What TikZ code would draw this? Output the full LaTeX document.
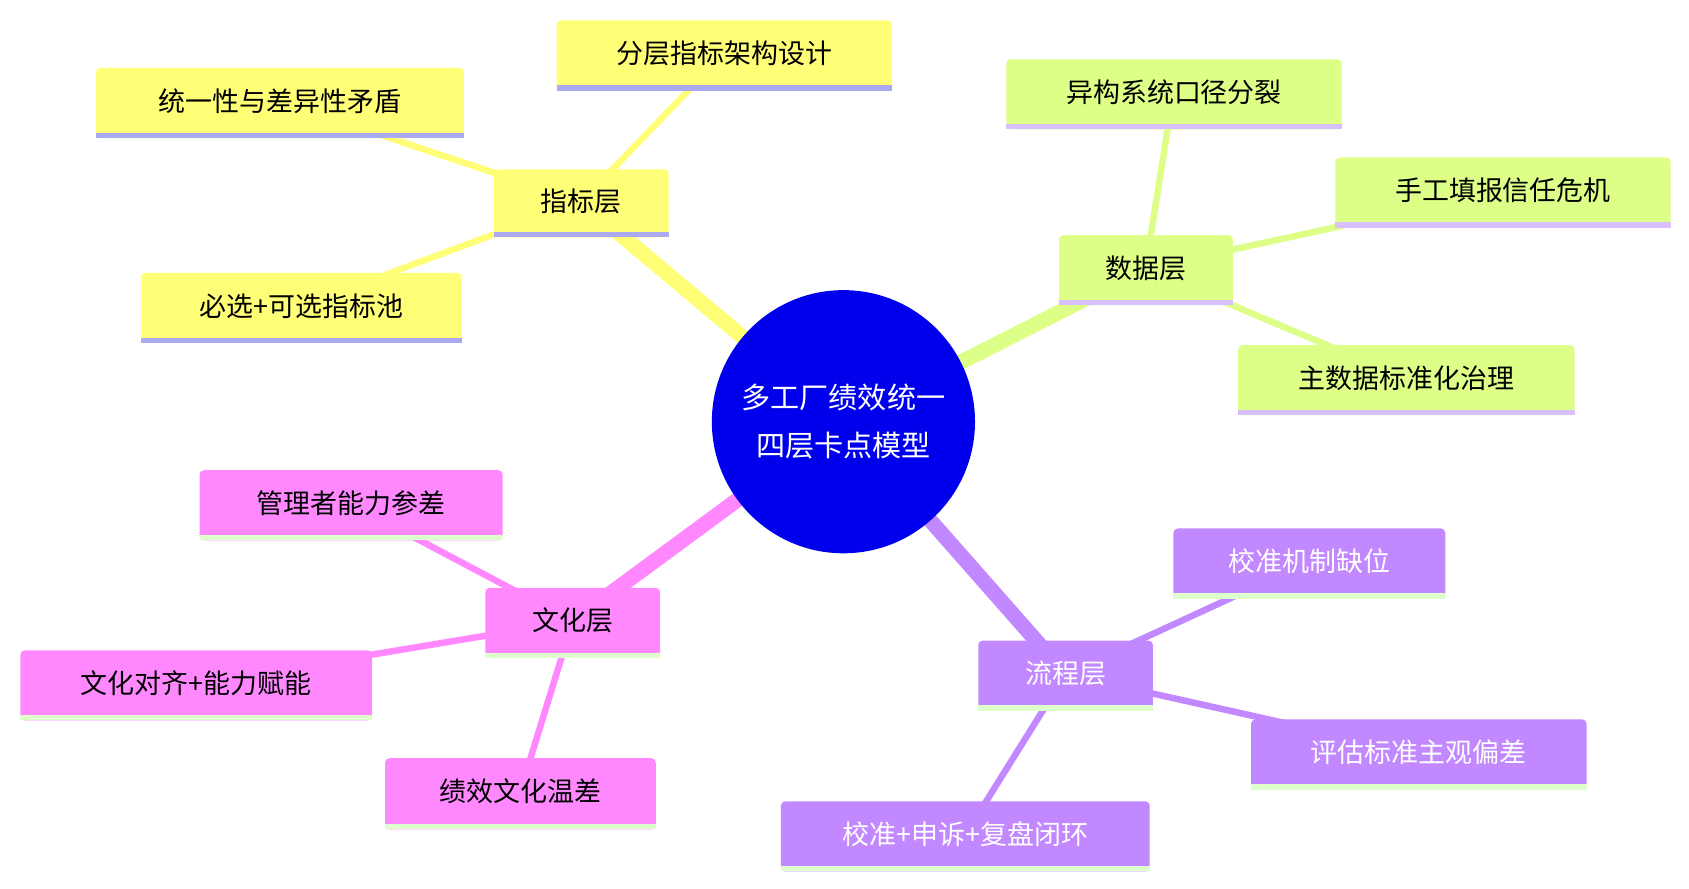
\documentclass[tikz,border=0pt]{standalone}
\usepackage{fontspec}
\setmainfont{Noto Sans CJK SC}
\begin{document}
\begin{tikzpicture}[x=1pt,y=-1pt,
  box/.style={rounded corners=4pt,inner sep=0pt,font=\fontsize{25}{30}\selectfont},
  main/.style={line width=14pt},
  sub/.style={line width=6pt}]
\definecolor{yel}{HTML}{FFFF77}
\definecolor{grn}{HTML}{DDFF88}\definecolor{pur}{HTML}{C288FF}
\definecolor{pnk}{HTML}{FF88FF}\definecolor{lav}{HTML}{AAAAF0}
\definecolor{lpur}{HTML}{D8C0FF}\definecolor{lgrn}{HTML}{DDFFCC}
\useasboundingbox (0,0) rectangle (1566,824);
\newcommand\mmbox[9]{%
  \fill[#6,rounded corners=4pt] (#2,#3) rectangle (#4,#5);
  \fill[#7] (#2,#5-5) rectangle (#4,#5);
  \node[box,text=#8] (#1) at ({(#2+#4)/2},{(#3+#5)/2-2}) {#9};}
\coordinate (c) at (782,391);
\coordinate (z) at (539,187);\coordinate (s) at (1062,249);
\coordinate (l) at (988,625);\coordinate (w) at (531,576);
\draw[yel,main] (c) -- (z);
\draw[grn,main] (c) -- (s);
\draw[pur,main] (c) -- (l);
\draw[pnk,main] (c) -- (w);
\draw[yel,sub] (z) -- (671,50); \draw[yel,sub] (z) -- (259,94); \draw[yel,sub] (z) -- (279,284);
\draw[grn,sub] (s) -- (1088,86); \draw[grn,sub] (s) -- (1393,177); \draw[grn,sub] (s) -- (1304,351);
\draw[pur,sub] (l) -- (1214,521); \draw[pur,sub] (l) -- (1315,698); \draw[pur,sub] (l) -- (895,774);
\draw[pnk,sub] (w) -- (325,467); \draw[pnk,sub] (w) -- (182,634); \draw[pnk,sub] (w) -- (482,735);
\fill[blue!93!black] (c) circle (122);
\node[text=white,align=center,font=\fontsize{27}{44}\selectfont] (center) at (782,391) {多工厂绩效统一\\四层卡点模型};
\mmbox{zb}{458}{157}{620}{220}{yel}{lav}{black}{指标层}
\mmbox{a1}{516}{19}{827}{84}{yel}{lav}{black}{分层指标架构设计}
\mmbox{a2}{89}{63}{430}{128}{yel}{lav}{black}{统一性与差异性矛盾}
\mmbox{a3}{131}{253}{428}{318}{yel}{lav}{black}{必选+可选指标池}
\mmbox{sj}{982}{218}{1143}{283}{grn}{lpur}{black}{数据层}
\mmbox{b1}{933}{55}{1244}{120}{grn}{lpur}{black}{异构系统口径分裂}
\mmbox{b2}{1238}{146}{1549}{211}{grn}{lpur}{black}{手工填报信任危机}
\mmbox{b3}{1148}{320}{1460}{385}{grn}{lpur}{black}{主数据标准化治理}
\mmbox{lc}{907}{594}{1069}{659}{pur}{lgrn}{white}{流程层}
\mmbox{c1}{1088}{490}{1340}{555}{pur}{lgrn}{white}{校准机制缺位}
\mmbox{c2}{1160}{667}{1471}{732}{pur}{lgrn}{white}{评估标准主观偏差}
\mmbox{c3}{724}{743}{1066}{808}{pur}{lgrn}{white}{校准+申诉+复盘闭环}
\mmbox{wh}{450}{545}{612}{610}{pnk}{lgrn}{black}{文化层}
\mmbox{d1}{185}{436}{466}{501}{pnk}{lgrn}{black}{管理者能力参差}
\mmbox{d2}{19}{603}{345}{668}{pnk}{lgrn}{black}{文化对齐+能力赋能}
\mmbox{d3}{357}{703}{608}{769}{pnk}{lgrn}{black}{绩效文化温差}
\end{tikzpicture}
\end{document}
